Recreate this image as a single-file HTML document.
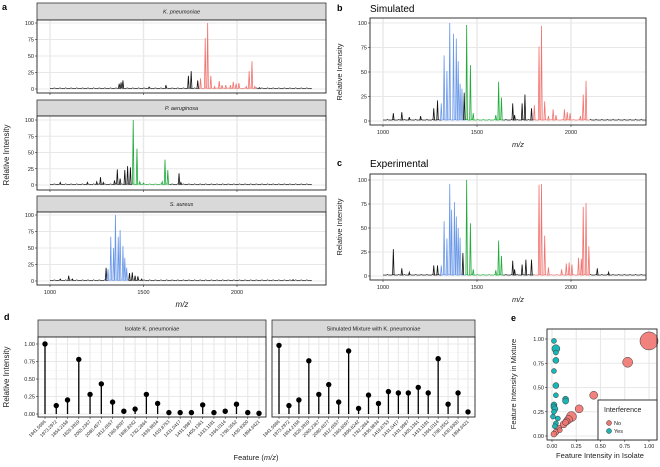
<!DOCTYPE html>
<html><head><meta charset="utf-8"><style>
body{margin:0;background:#fff;}
svg{display:block;font-family:"Liberation Sans",sans-serif;}
</style></head><body>
<svg id="fig" width="660" height="467" viewBox="0 0 660 467"></svg>
<script>
// ---------- DATA ----------
// spectrum peaks: [m/z, intensity, colorKey]  k=black r=red g=green b=blue
const peaksK=[[1370,8,'k'],[1380,10,'k'],[1390,13,'k'],[1530,3,'k'],[1620,6,'k'],[1740,20,'k'],[1755,27,'k'],[1790,13,'k'],[1805,16,'r'],[1830,77,'r'],[1843,100,'r'],[1860,20,'r'],[1880,4,'r'],[1905,12,'r'],[1920,6,'r'],[1940,6,'r'],[1965,6,'r'],[1980,11,'r'],[1995,8,'r'],[2010,9,'r'],[2050,4,'r'],[2065,27,'r'],[2080,42,'r'],[2095,4,'r'],[2120,2,'k']];
const peaksP=[[1055,4,'k'],[1200,4,'k'],[1250,5,'k'],[1270,12,'k'],[1285,4,'k'],[1345,7,'k'],[1360,24,'k'],[1375,10,'k'],[1400,23,'k'],[1415,29,'k'],[1430,27,'k'],[1445,100,'g'],[1465,56,'g'],[1480,5,'g'],[1500,3,'g'],[1600,5,'g'],[1615,39,'g'],[1630,23,'g'],[1690,18,'k'],[1700,4,'k']];
const peaksS=[[1055,3,'k'],[1100,8,'k'],[1120,3,'k'],[1300,20,'k'],[1310,18,'b'],[1325,67,'b'],[1340,50,'b'],[1350,100,'b'],[1365,67,'b'],[1375,77,'b'],[1390,53,'b'],[1400,35,'b'],[1410,20,'b'],[1425,12,'k'],[1440,13,'k'],[1455,8,'k'],[1470,7,'k'],[1490,3,'k'],[2300,2,'k']];
const peaksSim=[[1055,8,'k'],[1100,9,'k'],[1140,4,'k'],[1200,5,'k'],[1270,13,'k'],[1290,21,'k'],[1310,18,'b'],[1325,67,'b'],[1340,51,'b'],[1355,100,'b'],[1375,89,'b'],[1390,84,'b'],[1400,61,'b'],[1410,38,'b'],[1420,33,'b'],[1432,29,'k'],[1445,98,'g'],[1465,57,'g'],[1480,8,'g'],[1600,6,'g'],[1615,40,'g'],[1630,24,'g'],[1690,18,'k'],[1700,6,'k'],[1740,18,'k'],[1755,27,'k'],[1790,13,'k'],[1805,16,'r'],[1830,76,'r'],[1843,97,'r'],[1860,20,'r'],[1880,5,'r'],[1905,12,'r'],[1920,6,'r'],[1965,12,'r'],[1980,9,'r'],[1995,8,'r'],[2050,5,'r'],[2065,27,'r'],[2080,41,'r']];
const peaksExp=[[1055,28,'k'],[1100,8,'k'],[1140,4,'k'],[1270,11,'k'],[1290,11,'k'],[1310,11,'b'],[1325,57,'b'],[1340,39,'b'],[1355,96,'b'],[1365,69,'b'],[1380,77,'b'],[1390,62,'b'],[1400,50,'b'],[1410,40,'b'],[1425,24,'k'],[1445,100,'g'],[1465,55,'g'],[1480,7,'g'],[1600,6,'g'],[1615,37,'g'],[1630,21,'g'],[1690,16,'k'],[1700,7,'k'],[1740,12,'k'],[1760,17,'k'],[1790,17,'k'],[1830,95,'r'],[1843,96,'r'],[1860,42,'r'],[1880,9,'r'],[1950,7,'r'],[1975,13,'r'],[1990,14,'r'],[2005,12,'r'],[2040,19,'r'],[2055,18,'r'],[2065,72,'r'],[2080,76,'r'],[2095,31,'r'],[2140,8,'k'],[2200,4,'k']];
const featureLabels=["1841.5686","1973.2972","1854.2158","1826.3919","2065.2367","2080.4577","1812.6557","1365.8097","1896.8242","1782.2864","1836.9834","1419.8753","1431.0417","1431.9987","1405.1361","1433.1191","1366.0114","1798.3552","1430.9300","1994.6421"];
const isolateVals=[1.00,0.12,0.20,0.78,0.28,0.43,0.17,0.04,0.07,0.28,0.15,0.02,0.02,0.02,0.13,0.02,0.04,0.14,0.02,0.01];
const mixtureVals=[0.98,0.12,0.20,0.76,0.28,0.42,0.17,0.90,0.08,0.27,0.15,0.32,0.30,0.30,0.38,0.30,0.79,0.14,0.30,0.03];
const spectTicks=[1000,1500,2000];
const intTicks=[0,25,50,75,100];
const relTicks=[0,0.25,0.5,0.75,1];
const relTickLabels=["0.00","0.25","0.50","0.75","1.00"];
// panel e: [isolate, mixture, size]
const noPts=[[1,0.98,9],[0.78,0.76,5],[0.43,0.42,4],[0.28,0.28,4],[0.20,0.20,5],[0.17,0.17,4],[0.15,0.15,3.5],[0.12,0.12,3.5],[0.14,0.14,3],[0.07,0.08,3],[0.04,0.04,3],[0.02,0.02,3],[0.08,0.06,2.5]];
const yesPts=[[0.02,0.98,2.5],[0.04,0.90,4],[0.04,0.86,2.5],[0.04,0.78,3],[0.02,0.67,2.5],[0.04,0.52,3],[0.04,0.42,2.5],[0.14,0.38,3],[0.14,0.36,3],[0.02,0.32,3],[0.02,0.30,3],[0.03,0.28,3],[0.02,0.25,2.5],[0.01,0.20,2.5],[0.06,0.18,2.5],[0.04,0.13,2.5],[0.03,0.10,2.5]];

// ---------- HELPERS ----------
const svg=document.getElementById('fig');
const NS='http://www.w3.org/2000/svg';
function el(tag,attrs,parent){const e=document.createElementNS(NS,tag);for(const k in attrs)e.setAttribute(k,attrs[k]);(parent||svg).appendChild(e);return e;}
function txt(x,y,s,size,opts,parent){const t=el('text',Object.assign({x:x,y:y,'font-size':size,fill:'#222'},opts||{}),parent);t.textContent=s;return t;}
const COL={k:'#111',r:'#F07470',g:'#1FAA3A',b:'#6A98E8'};

function spectrum(name,px0,px1,py0,py1,x1000,x2000,y0,y100,peaks,xlabels,regions){
  const g=el('g',{});
  
  
  el('rect',{x:px0,y:py0,width:px1-px0,height:py1-py0,fill:'#fff'},g);
  const sx=m=>x1000+(m-1000)*(x2000-x1000)/1000;
  const sy=v=>y0+(v)*(y100-y0)/100;
  // grid
  for(const v of intTicks){el('line',{x1:px0,x2:px1,y1:sy(v),y2:sy(v),stroke:'#e8e8e8','stroke-width':1.1},g);
    el('line',{x1:px0-2,x2:px0,y1:sy(v),y2:sy(v),stroke:'#333','stroke-width':0.6},g);
    txt(px0-3,sy(v)+2,String(v),5.5,{'text-anchor':'end'},g);}
  for(const m of spectTicks){el('line',{x1:sx(m),x2:sx(m),y1:py0,y2:py1,stroke:'#e8e8e8','stroke-width':1.4},g);
    el('line',{x1:sx(m),x2:sx(m),y1:py1,y2:py1+2,stroke:'#333','stroke-width':0.6},g);
    if(xlabels)txt(sx(m),py1+9,String(m),5.5,{'text-anchor':'middle'},g);}
  // baseline segments
  let m=1000;const step=10;
  while(m<2400){
    let c='k';for(const r of regions)if(m>=r[0]&&m<r[1])c=r[2];
    const v=1+((m/10)%3===0?1:0)*0.8;
    el('line',{x1:sx(m),x2:sx(m+step),y1:sy(v),y2:sy(1),stroke:COL[c],'stroke-width':0.7},g);
    m+=step;
  }
  for(const p of peaks){
    const pk=el('path',{d:`M${sx(p[0]-4)},${sy(1)} L${sx(p[0])},${sy(p[1])} L${sx(p[0]+4)},${sy(1)}`,fill:'none',stroke:COL[p[2]],'stroke-width':0.8},g);
    
    
  }
  el('rect',{x:px0,y:py0,width:px1-px0,height:py1-py0,fill:'none',stroke:'#222','stroke-width':0.9},g);
  return g;
}
function strip(x,y,w,h,label,italic,name){
  const r=el('rect',{x:x,y:y,width:w,height:h,fill:'#d9d9d9',stroke:'#333','stroke-width':0.8});
  
  
  txt(x+w/2,y+h/2+2,label,5.5,{'text-anchor':'middle','font-style':italic?'italic':'normal'});
}

// ---------- PANEL A ----------
txt(2,10,'a',9,{'font-weight':'bold',fill:'#000'});
strip(37,3,289,17,'K. pneumoniae',true,'strip-k-pneumoniae');
spectrum('spectrum-k-pneumoniae',37,326,20,93,50,237,89,23,peaksK,false,[[1800,2100,'r']]);
strip(37,100,289,16,'P. aeruginosa',true,'strip-p-aeruginosa');
spectrum('spectrum-p-aeruginosa',37,326,116,190,50,237,185,120,peaksP,false,[[1440,1640,'g']]);
strip(37,196,289,16,'S. aureus',true,'strip-s-aureus');
spectrum('spectrum-s-aureus',37,326,212,285,50,237,281,215,peaksS,true,[[1305,1420,'b']]);
txt(9,155,'Relative Intensity',8,{'text-anchor':'middle',transform:'rotate(-90 9 155)'});
txt(182,307,'m/z',8,{'text-anchor':'middle','font-style':'italic'});

// ---------- PANEL B / C ----------
txt(337,11,'b',9,{'font-weight':'bold',fill:'#000'});
txt(370,12,'Simulated',10,{fill:'#000'});
spectrum('spectrum-simulated',370,646,18,125,383,571,121,23,peaksSim,true,[[1305,1440,'b'],[1440,1640,'g'],[1800,2100,'r']]);
txt(342,72,'Relative Intensity',7.5,{'text-anchor':'middle',transform:'rotate(-90 342 72)'});
txt(518,147,'m/z',7.5,{'text-anchor':'middle','font-style':'italic'});
txt(337,166,'c',9,{'font-weight':'bold',fill:'#000'});
txt(370,167,'Experimental',10,{fill:'#000'});
spectrum('spectrum-experimental',370,646,174,280,383,571,276,180,peaksExp,true,[[1305,1440,'b'],[1440,1640,'g'],[1800,2100,'r']]);
txt(342,227,'Relative Intensity',7.5,{'text-anchor':'middle',transform:'rotate(-90 342 227)'});
txt(518,302,'m/z',7.5,{'text-anchor':'middle','font-style':'italic'});

// ---------- PANEL D ----------
txt(4,320,'d',9,{'font-weight':'bold',fill:'#000'});
function lollipop(name,x0,x1,vals,label){
  strip(x0,320,x1-x0,17,label,false,'strip-'+name);
  const g=el('g',{});
  
  
  const py0=337,py1=417,yz=414,yo=344;
  const sy=v=>yz+v*(yo-yz);
  const n=vals.length,sp=(x1-x0-14)/(n-1);
  const sx=i=>x0+7+i*sp;
  el('rect',{x:x0,y:py0,width:x1-x0,height:py1-py0,fill:'#fff'},g);
  for(const v of relTicks){el('line',{x1:x0,x2:x1,y1:sy(v),y2:sy(v),stroke:'#e8e8e8','stroke-width':1.1},g);}
  for(let v=0.125;v<1;v+=0.25)el('line',{x1:x0,x2:x1,y1:sy(v),y2:sy(v),stroke:'#f2f2f2','stroke-width':0.6},g);
  for(let i=0;i<n;i++){
    el('line',{x1:sx(i),x2:sx(i),y1:py0,y2:py1,stroke:'#e8e8e8','stroke-width':1.1},g);
    el('line',{x1:sx(i),x2:sx(i),y1:py1,y2:py1+2,stroke:'#333','stroke-width':0.6},g);
    const lb=txt(sx(i)+1,py1+5,featureLabels[i],4.6,{'text-anchor':'end',transform:`rotate(-45 ${sx(i)+1} ${py1+5})`},g);
  }
  for(let i=0;i<n;i++){
    const st=el('line',{x1:sx(i),x2:sx(i),y1:sy(0),y2:sy(vals[i]),stroke:'#000','stroke-width':1.3},g);
    
    
    const c=el('circle',{cx:sx(i),cy:sy(vals[i]),r:2.7,fill:'#000'},g);
    
    
  }
  el('rect',{x:x0,y:py0,width:x1-x0,height:py1-py0,fill:'none',stroke:'#222','stroke-width':0.9},g);
  return {sy};
}
const L=lollipop('isolate-lollipop',38,266,isolateVals,'Isolate K. pneumoniae');
lollipop('mixture-lollipop',272,475,mixtureVals,'Simulated Mixture with K. pneumoniae');
relTicks.forEach((v,i)=>{el('line',{x1:36,x2:38,y1:L.sy(v),y2:L.sy(v),stroke:'#333','stroke-width':0.6});txt(35,L.sy(v)+2,relTickLabels[i],5.5,{'text-anchor':'end'});});
txt(9,377,'Relative Intensity',8,{'text-anchor':'middle',transform:'rotate(-90 9 377)'});
const ft=txt(256,460,'Feature (',7.5,{'text-anchor':'middle'});
const ts=document.createElementNS(NS,'tspan');ts.setAttribute('font-style','italic');ts.textContent='m/z';ft.appendChild(ts);ft.appendChild(document.createTextNode(')'));

// ---------- PANEL E ----------
txt(511,321,'e',9,{'font-weight':'bold',fill:'#000'});
(function(){
  const g=el('g',{});
  
  
  const px0=547,px1=657,py0=329,py1=440;
  const sx=v=>552+v*(649-552), sy=v=>436+v*(339-436);
  el('rect',{x:px0,y:py0,width:px1-px0,height:py1-py0,fill:'#fff'},g);
  relTicks.forEach((v,i)=>{
    el('line',{x1:px0,x2:px1,y1:sy(v),y2:sy(v),stroke:'#e8e8e8','stroke-width':1.1},g);
    el('line',{x1:sx(v),x2:sx(v),y1:py0,y2:py1,stroke:'#e8e8e8','stroke-width':1.1},g);
    el('line',{x1:px0-2,x2:px0,y1:sy(v),y2:sy(v),stroke:'#333','stroke-width':0.6},g);
    el('line',{x1:sx(v),x2:sx(v),y1:py1,y2:py1+2,stroke:'#333','stroke-width':0.6},g);
    txt(px0-3,sy(v)+2,relTickLabels[i],5.5,{'text-anchor':'end'},g);
    txt(sx(v),py1+8,relTickLabels[i],5.5,{'text-anchor':'middle'},g);
  });
  for(const p of noPts){const c=el('circle',{cx:sx(p[0]),cy:sy(p[1]),r:p[2],fill:'#F07470',stroke:'#333','stroke-width':0.5,'fill-opacity':0.9},g);
    
    }
  for(const p of yesPts){const c=el('circle',{cx:sx(p[0]),cy:sy(p[1]),r:p[2],fill:'#1BB5B5',stroke:'#333','stroke-width':0.5},g);
    
    }
  el('rect',{x:px0,y:py0,width:px1-px0,height:py1-py0,fill:'none',stroke:'#222','stroke-width':0.9},g);
  const lg=el('g',{});
  
  
  el('rect',{x:598,y:400,width:59,height:40,fill:'#fff',stroke:'#222','stroke-width':0.9},lg);
  txt(604,412,'Interference',7,{},lg);
  el('circle',{cx:609,cy:423,r:2.5,fill:'#F07470',stroke:'#333','stroke-width':0.5},lg);
  txt(614,425,'No',5.5,{},lg);
  el('circle',{cx:609,cy:431,r:2.5,fill:'#1BB5B5',stroke:'#333','stroke-width':0.5},lg);
  txt(614,433,'Yes',5.5,{},lg);
})();
txt(516,384,'Feature Intensity in Mixture',7.5,{'text-anchor':'middle',transform:'rotate(-90 516 384)'});
txt(600,458,'Feature Intensity in Isolate',7.5,{'text-anchor':'middle'});
</script>
</body></html>
